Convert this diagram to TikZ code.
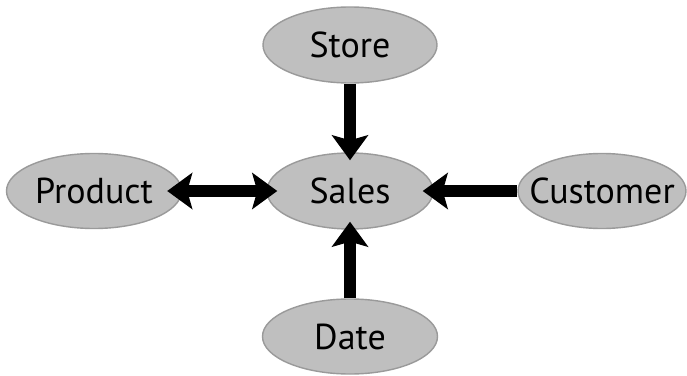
\documentclass[tikz,border=0pt]{standalone}
\usepackage{fontspec}
\setmainfont{PT Sans}
\usetikzlibrary{shapes.geometric,arrows.meta}
\definecolor{ellfill}{HTML}{BFBFBF}
\definecolor{elldraw}{HTML}{9A9A9A}
\begin{document}
\begin{tikzpicture}[
  ent/.style={ellipse, draw=elldraw, line width=0.8pt, fill=ellfill, inner sep=0pt,
    minimum width=3.48cm, minimum height=1.52cm, font=\fontsize{20.5}{24}\selectfont},
  bigarrow/.style={line width=0.24cm, -{Stealth[length=0.5cm,width=0.72cm,inset=0.1cm]}},
  bothway/.style={line width=0.24cm, {Stealth[length=0.5cm,width=0.72cm,inset=0.1cm]}-{Stealth[length=0.5cm,width=0.72cm,inset=0.1cm]}}
]
\useasboundingbox (0,0) rectangle (13.74,7.5);
\node[ent] (store) at (7.0,6.6) {Store};
\node[ent, minimum width=3.32cm] (sales) at (7.0,3.68) {Sales};
\node[ent, minimum width=3.5cm, minimum height=1.5cm] (product) at (1.88,3.68) {Product};
\node[ent, inner xsep=-0.4cm, minimum width=3.36cm, minimum height=1.5cm] (customer) at (12.04,3.68) {Customer};
\node[ent, minimum width=3.5cm, minimum height=1.5cm] (date) at (7.0,0.77) {Date};
\draw[bigarrow, shorten >=-0.16cm] (store.south) -- (sales.north);
\draw[bigarrow, shorten >=-0.16cm] (date.north) -- (sales.south);
\draw[bigarrow, shorten >=-0.22cm] (customer.west) -- (sales.east);
\draw[bothway, shorten <=-0.3cm, shorten >=-0.22cm] (product.east) -- (sales.west);
\end{tikzpicture}
\end{document}
